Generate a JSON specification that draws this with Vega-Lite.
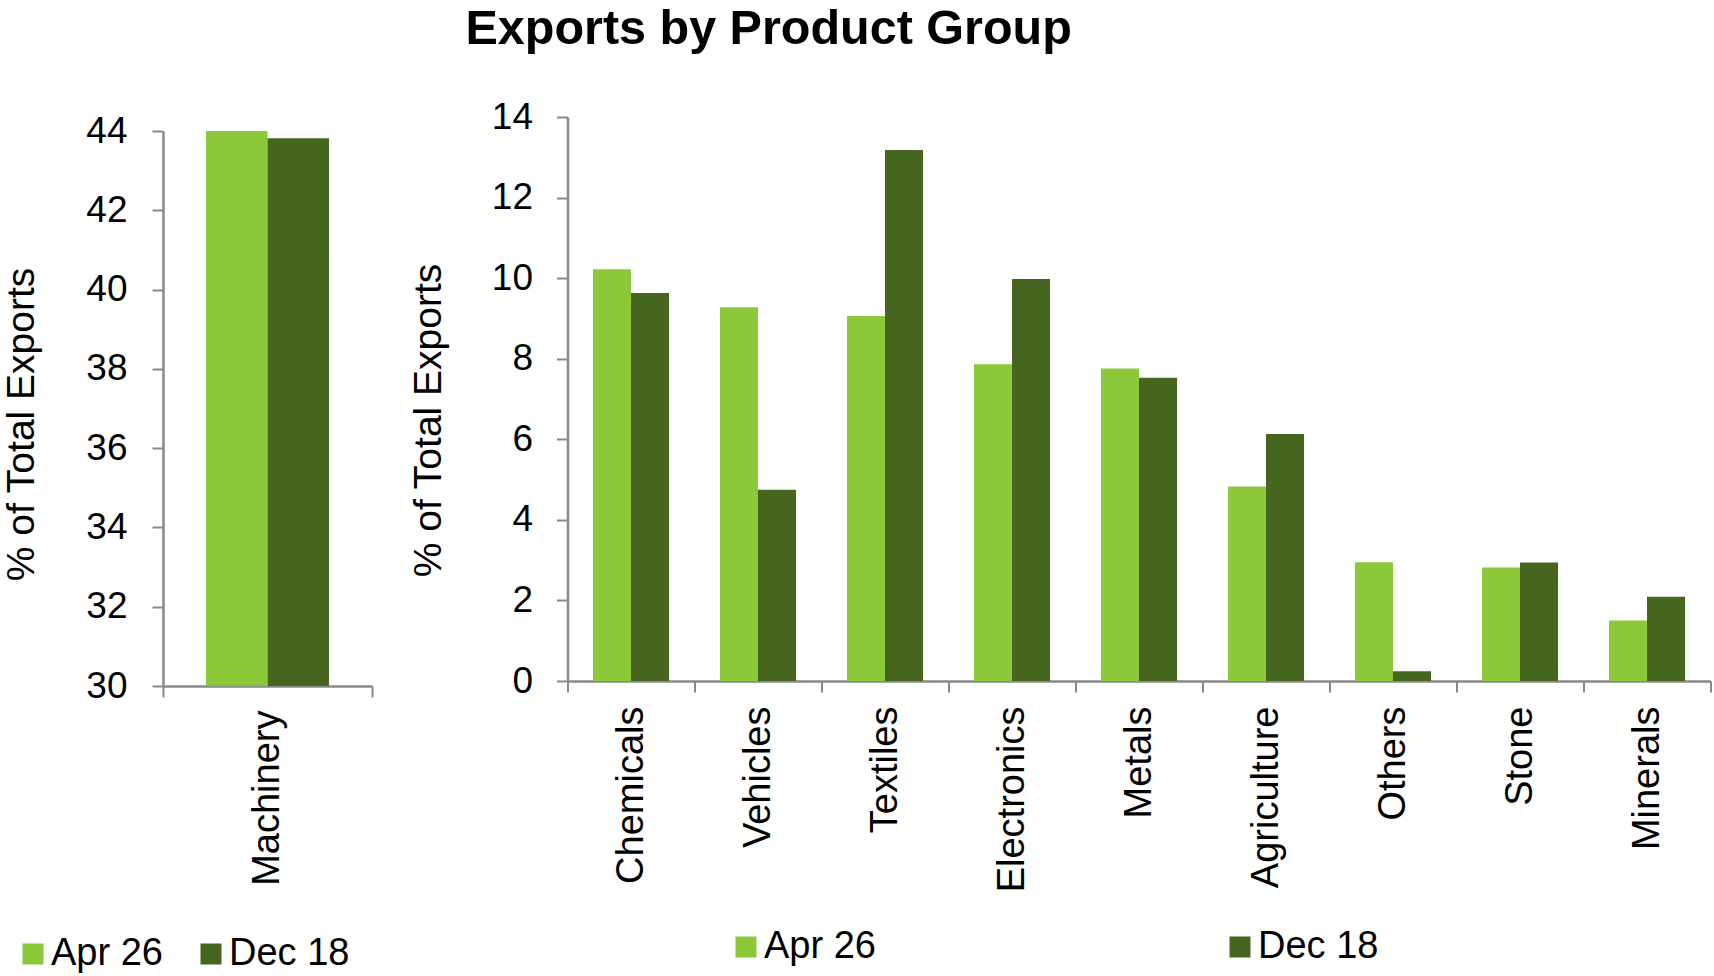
{
  "$schema": "https://vega.github.io/schema/vega-lite/v6.json",
  "background": "white",
  "padding": {"left": 2, "top": 4, "right": 0, "bottom": 0},
  "title": {"text": "Exports by Product Group", "font": "Liberation Sans", "fontSize": 48.5, "fontWeight": "bold", "color": "black", "anchor": "start", "dx": 463, "offset": 6, "baseline": "alphabetic"},
  "datasets": {
    "machinery": [
      {"group": "Machinery", "date": "Apr 26", "value": 44.0},
      {"group": "Machinery", "date": "Dec 18", "value": 43.82}
    ],
    "products": [
      {"group": "Chemicals", "date": "Apr 26", "value": 10.22},
      {"group": "Chemicals", "date": "Dec 18", "value": 9.63},
      {"group": "Vehicles", "date": "Apr 26", "value": 9.28},
      {"group": "Vehicles", "date": "Dec 18", "value": 4.75},
      {"group": "Textiles", "date": "Apr 26", "value": 9.06},
      {"group": "Textiles", "date": "Dec 18", "value": 13.18},
      {"group": "Electronics", "date": "Apr 26", "value": 7.86},
      {"group": "Electronics", "date": "Dec 18", "value": 9.98},
      {"group": "Metals", "date": "Apr 26", "value": 7.76},
      {"group": "Metals", "date": "Dec 18", "value": 7.53},
      {"group": "Agriculture", "date": "Apr 26", "value": 4.83},
      {"group": "Agriculture", "date": "Dec 18", "value": 6.13},
      {"group": "Others", "date": "Apr 26", "value": 2.95},
      {"group": "Others", "date": "Dec 18", "value": 0.24},
      {"group": "Stone", "date": "Apr 26", "value": 2.82},
      {"group": "Stone", "date": "Dec 18", "value": 2.94},
      {"group": "Minerals", "date": "Apr 26", "value": 1.50},
      {"group": "Minerals", "date": "Dec 18", "value": 2.09}
    ],
    "spacer": [{"a": 1}]
  },
  "config": {
    "view": {"stroke": null},
    "font": "Liberation Sans",
    "axis": {
      "grid": false,
      "domainColor": "#898989",
      "domainWidth": 2.5,
      "tickColor": "#898989",
      "tickWidth": 2,
      "tickSize": 11,
      "labelColor": "black",
      "labelFont": "Liberation Sans",
      "labelFontSize": 37,
      "labelLimit": 400,
      "titleFont": "Liberation Sans",
      "titleFontSize": 39,
      "titleFontWeight": "normal",
      "titleColor": "black"
    },
    "legend": {
      "labelFont": "Liberation Sans",
      "labelFontSize": 38,
      "labelColor": "black",
      "symbolType": "square",
      "symbolSize": 441,
      "symbolStrokeWidth": 0,
      "symbolOpacity": 1
    }
  },
  "spacing": 36.5,
  "resolve": {"scale": {"color": "independent", "x": "independent", "y": "independent", "xOffset": "independent"}, "legend": {"color": "independent"}},
  "hconcat": [
    {
      "bounds": "flush",
      "spacing": 13,
      "resolve": {"scale": {"color": "independent", "x": "independent", "y": "independent", "xOffset": "independent"}, "legend": {"color": "independent"}},
      "vconcat": [
        {
          "data": {"name": "spacer"},
          "width": 209,
          "height": 1,
          "mark": {"type": "point", "opacity": 0},
          "encoding": {}
        },
        {
          "data": {"name": "machinery"},
          "width": 209,
          "height": 555,
          "mark": {"type": "bar", "clip": true},
          "encoding": {
            "x": {"field": "group", "type": "nominal", "sort": null,
              "scale": {"paddingInner": 0, "paddingOuter": 0},
              "axis": {"title": null, "labelAngle": -90, "labelPadding": 13, "tickBand": "extent", "labelFontSize": 38}},
            "xOffset": {"field": "date", "type": "nominal", "sort": ["Apr 26", "Dec 18"],
              "scale": {"paddingInner": 0, "paddingOuter": 0.7}},
            "y": {"field": "value", "type": "quantitative",
              "scale": {"domain": [30, 44], "zero": false, "nice": false},
              "axis": {"title": "% of Total Exports", "values": [30, 32, 34, 36, 38, 40, 42, 44], "labelPadding": 25, "titleX": -121.5, "titleY": 293}},
            "color": {"field": "date", "type": "nominal",
              "scale": {"domain": ["Apr 26", "Dec 18"], "range": ["#8BC83A", "#46651F"]},
              "legend": {"title": null, "orient": "none", "direction": "horizontal", "legendX": -149, "legendY": 804, "columnPadding": 29, "labelOffset": -1}}
          }
        }
      ]
    },
    {
      "data": {"name": "products"},
      "width": 1143,
      "height": 564,
      "mark": {"type": "bar"},
      "encoding": {
        "x": {"field": "group", "type": "nominal", "sort": null,
          "scale": {"paddingInner": 0, "paddingOuter": 0},
          "axis": {"title": null, "labelAngle": -90, "labelPadding": 14, "tickBand": "extent", "labelFontSize": 38}},
        "xOffset": {"field": "date", "type": "nominal", "sort": ["Apr 26", "Dec 18"],
          "scale": {"paddingInner": 0, "paddingOuter": 0.67}},
        "y": {"field": "value", "type": "quantitative",
          "scale": {"domain": [0, 14], "nice": false},
          "axis": {"title": "% of Total Exports", "values": [0, 2, 4, 6, 8, 10, 12, 14], "labelPadding": 24, "titleX": -119, "titleY": 303}},
        "color": {"field": "date", "type": "nominal",
          "scale": {"domain": ["Apr 26", "Dec 18"], "range": ["#8BC83A", "#46651F"]},
          "legend": {"title": null, "orient": "none", "direction": "horizontal", "legendX": 159.5, "legendY": 811, "columnPadding": 345, "labelOffset": -1}}
      }
    }
  ]
}
